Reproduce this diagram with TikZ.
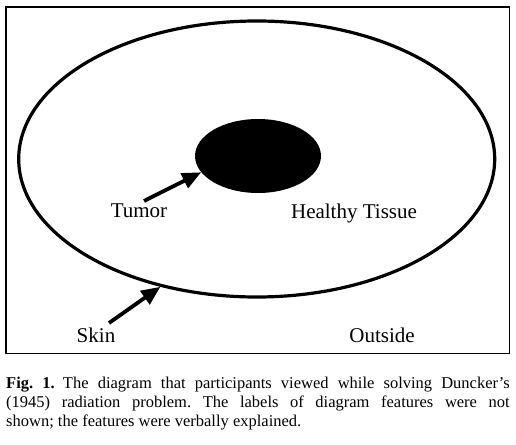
\documentclass[tikz,border=0pt]{standalone}
\usepackage{fontspec}
\setmainfont{Liberation Serif}
\usetikzlibrary{shapes.geometric,arrows.meta,positioning}
\tikzstyle{body}=[ellipse,draw,line width=3.2pt,minimum width=476pt,minimum height=276pt,inner sep=0pt]
\tikzstyle{tum}=[ellipse,fill=black,minimum width=126pt,minimum height=74pt,inner sep=0pt]
\tikzstyle{lbl}=[anchor=base,inner sep=0pt,font=\fontsize{21}{25}\selectfont]
\tikzstyle{ptr}=[-{Triangle[length=19pt,width=16pt]},line width=3.8pt]
\tikzstyle{capt}=[anchor=north west,inner sep=0pt,text width=503.5pt,align=justify,font=\fontsize{16.5}{19}\selectfont\frenchspacing]

\begin{document}
\begin{tikzpicture}[x=1pt,y=-1pt]
\useasboundingbox (0,0) rectangle (516,444);
\draw[line width=1.4pt] (6,7) rectangle (509.5,353.5);
\node[body] (skin) at (256.7,159) {};
\node[tum] (tumor) at (258,156) {};
\node[lbl] (tumorlbl) at (139,217) {Tumor};
\node[lbl] (tissue) at (354,218) {Healthy Tissue};
\node[lbl] (skinlbl) at (96,342.7) {Skin};
\node[lbl] (outside) at (382,342.7) {Outside};
\coordinate (tumortail) at (144,201);
\coordinate (skintail) at (109,323);
\draw[ptr] (tumortail) -- (tumor.196);
\draw[ptr] (skintail) -- (skin.233);
\node[capt] (cap) at (6,376.4) {\textbf{Fig.~1.}\hspace{0.5em}The diagram that participants viewed while solving Duncker's\linebreak (1945) radiation problem. The labels of diagram features were not\linebreak shown; the features were verbally explained.};
\end{tikzpicture}
\end{document}
